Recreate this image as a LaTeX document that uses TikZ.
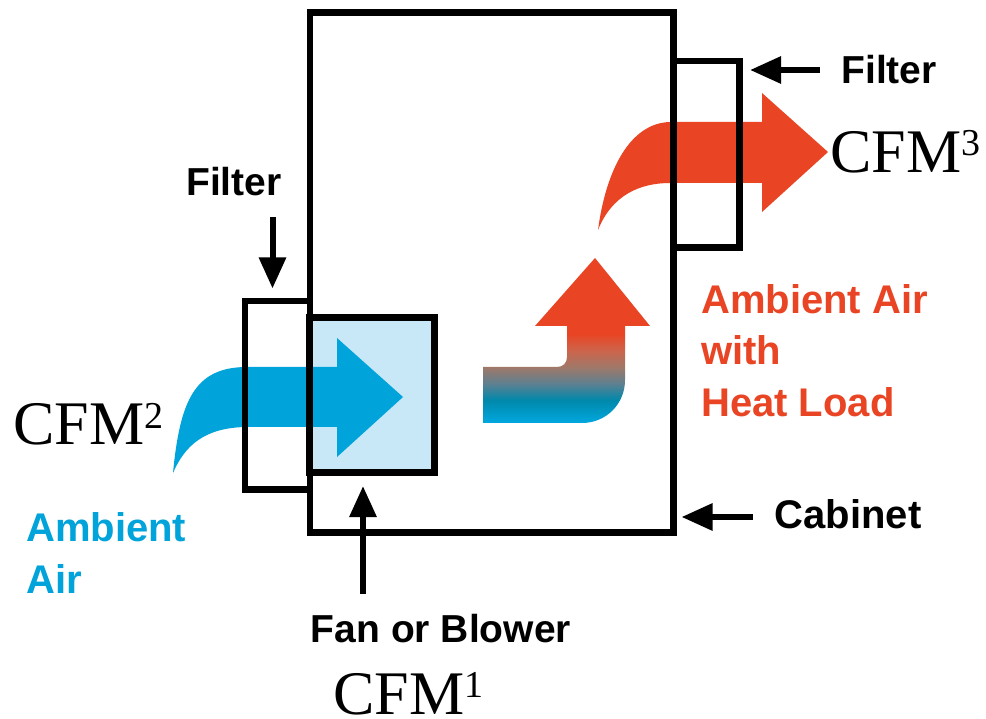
\documentclass[tikz,border=0pt]{standalone}
\usepackage{fontspec}
\setmainfont{Liberation Serif}
\newfontfamily\labfont{Liberation Sans}
\usetikzlibrary{arrows.meta}
\definecolor{airblue}{RGB}{0,163,218}
\definecolor{airred}{RGB}{233,69,36}
\definecolor{fanfill}{RGB}{200,232,248}
\definecolor{gblue}{RGB}{0,168,224}
\definecolor{gteal}{RGB}{0,136,170}
\definecolor{ggray}{RGB}{95,128,144}
\definecolor{gbrown}{RGB}{160,120,104}
\definecolor{gorange}{RGB}{205,100,75}
\pgfdeclareverticalshading{heatshade}{100bp}{color(0bp)=(gblue); color(25bp)=(gblue); color(32bp)=(gteal); color(37bp)=(ggray); color(42bp)=(gbrown); color(47bp)=(gorange); color(52bp)=(airred); color(100bp)=(airred)}
\newcommand{\cfmlabel}[1]{{\fontsize{62}{62}\selectfont CFM}\raisebox{17pt}{\fontsize{38}{38}\selectfont #1}}
\tikzset{
  outline/.style={draw=black, line width=6.7pt, rectangle, inner sep=0pt, outer sep=0pt},
  labarrow/.style={draw=black, line width=6pt, -{Triangle[length=31pt,width=26pt]}},
  labtext/.style={font=\labfont\bfseries\fontsize{39}{52}\selectfont, inner sep=0pt, text=black},
  airtext/.style={font=\labfont\bfseries\fontsize{40}{52}\selectfont, inner sep=0pt, align=left},
  cfm/.style={inner sep=0pt, anchor=base west, text=black}
}
\begin{document}
\begin{tikzpicture}[x=1pt,y=-1pt]
\useasboundingbox[fill=white] (0,0) rectangle (986,719);
% fan box fill
\node[rectangle, fill=fanfill, inner sep=0pt, minimum width=124pt, minimum height=154.5pt] (fan) at (372,395.25) {};
% blue arrow
\path[fill=airblue] (173,473) .. controls (180,400) and (195,368) .. (245,367) -- (337,367) -- (337,338) -- (403,397) -- (337,457) -- (337,427) -- (245,427) .. controls (205,428) and (185,445) .. (173,473) -- cycle;
% red arrow
\path[fill=airred] (598,230) .. controls (606,170) and (630,123) .. (670,122) -- (762,122) -- (762,93) -- (828,152) -- (762,212) -- (762,183) -- (670,183) .. controls (640,183) and (612,195) .. (598,230) -- cycle;
% gradient arrow
\path[shading=heatshade] (483,367) -- (557,367) .. controls (563,367) and (567,363) .. (567,357) -- (567,326) -- (535,326) -- (595,258) -- (650,326) -- (625,326) -- (625,380) .. controls (625,404) and (606,423) .. (582,423) -- (483,423) -- cycle;
% outlines
\node[outline, minimum width=363.5pt, minimum height=519.8pt] (cabinet) at (491.75,272.6) {};
\node[outline, minimum width=65pt, minimum height=188.5pt] (filterL) at (277.5,395.25) {};
\node[outline, minimum width=66pt, minimum height=186.5pt] (filterR) at (706.5,154.25) {};
\draw[line width=6.7pt] (fan.north west) rectangle (fan.south east);
% labels
\node[labtext, anchor=base] (lblFilterL) at (234,196) {Filter};
\node[labtext, anchor=base] (lblFilterR) at (889,83.5) {Filter};
\node[labtext, anchor=base, font=\labfont\bfseries\fontsize{40}{52}\selectfont] (lblCabinet) at (848,528) {Cabinet};
\node[labtext, anchor=base] (lblFan) at (441,642) {Fan or Blower};
\node[airtext, text=airblue, anchor=base west] (lblAmbient) at (26,593.5) {Ambient\\Air};
\node[airtext, text=airred, anchor=base west] (lblHeat) at (701,417) {Ambient Air\\with\\Heat Load};
\node[cfm] (cfm1) at (333,714) {\cfmlabel{1}};
\node[cfm] (cfm2) at (13,445) {\cfmlabel{2}};
\node[cfm] (cfm3) at (830,173) {\cfmlabel{3}};
% label arrows
\coordinate (fLtail) at (272.5,217);
\coordinate (fLtip) at (272.5,288.5);
\coordinate (fantail) at (363,593.5);
\coordinate (fantip) at (363,486);
\coordinate (fRtail) at (820,70);
\coordinate (fRtip) at (750,70);
\coordinate (cabtail) at (753,517);
\coordinate (cabtip) at (681.5,517);
\draw[labarrow] (fLtail) -- (fLtip);
\draw[labarrow] (fantail) -- (fantip);
\draw[labarrow] (fRtail) -- (fRtip);
\draw[labarrow] (cabtail) -- (cabtip);
\end{tikzpicture}
\end{document}
